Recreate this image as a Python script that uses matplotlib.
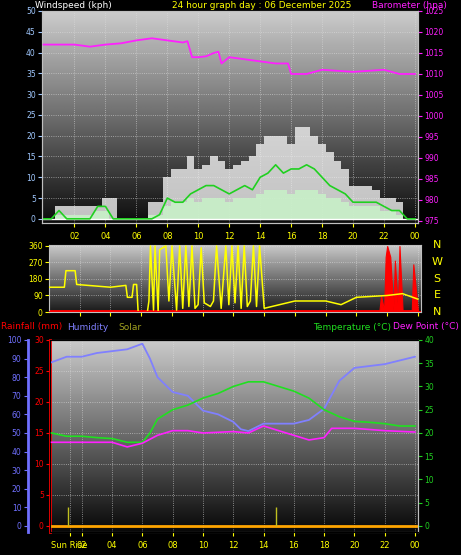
import numpy as np
import matplotlib
matplotlib.use("Agg")
import matplotlib.pyplot as plt

# ---------------- data ----------------
hours_h = [i * 0.5 for i in range(49)]
gust = [0, 0, 3, 3, 3, 3, 3, 3, 5, 5, 0, 0, 0, 0, 4, 4, 10, 12, 12, 15, 12, 13, 15, 14,
        12, 13, 14, 15, 18, 20, 20, 20, 18, 22, 22, 20, 18, 16, 14, 12, 8, 8, 8, 7, 5, 5, 4, 0, 0]
wind_avg = [0, 0, 2, 0, 0, 0, 0, 3, 3, 0, 0, 0, 0, 0, 0, 1, 5, 4, 4, 6, 7, 8, 8, 7,
            6, 7, 8, 7, 10, 11, 13, 11, 12, 12, 13, 12, 10, 8, 7, 6, 4, 4, 4, 4, 3, 2, 2, 0, 0]
wind_fill = [0, 0, 1, 1, 1, 1, 1, 2, 2, 0, 0, 0, 0, 0, 1, 1, 3, 4, 4, 5, 4, 5, 5, 5,
             4, 5, 5, 5, 6, 7, 7, 7, 6, 7, 7, 7, 6, 5, 5, 4, 3, 3, 3, 3, 2, 2, 1, 0, 0]

baro_h = [0, 1, 2, 3, 4, 5, 6, 7, 8, 9, 9.3, 9.6, 10, 10.5, 11, 11.3, 11.5, 12, 13, 14, 15, 15.8, 16, 17, 18, 20, 22, 23, 24]
baro = [1017, 1017, 1017, 1016.5, 1017, 1017.3, 1018, 1018.5, 1018, 1017.5, 1017.8, 1014, 1014, 1014.2, 1015, 1015.3, 1012.5,
        1014, 1013.5, 1013, 1012.5, 1012.5, 1010, 1010, 1011, 1010.5, 1011, 1010, 1010]

dir_h = [0, 1, 1.1, 1.7, 1.8, 4, 5, 5.1, 5.4, 5.5, 5.7, 5.8, 6.4, 6.5, 6.6, 6.8, 6.9, 7.1, 7.2, 7.6, 7.8, 8, 8.3, 8.5,
         8.7, 8.9, 9.1, 9.3, 9.5, 9.7, 9.9, 10.1, 10.5, 10.7, 10.9, 11.2, 11.5, 11.7, 11.9, 12.1, 12.3, 12.5,
         12.7, 12.9, 13.1, 13.3, 13.5, 13.7, 14, 16, 18, 19, 20, 22, 23, 24]
direction = [135, 135, 225, 225, 150, 135, 145, 80, 80, 150, 150, 0, 0, 60, 360, 10, 360, 0, 340, 360, 60, 360, 10, 360,
             20, 360, 30, 360, 20, 40, 350, 50, 30, 60, 360, 20, 360, 40, 360, 50, 360, 20,
             360, 30, 60, 360, 30, 360, 20, 60, 60, 40, 80, 90, 100, 70]
rain_dir_h = [0, 21.5, 21.6, 21.8, 21.9, 22.0, 22.2, 22.4, 22.5, 22.7, 22.8, 23.0, 23.6, 23.7, 24]
rain_dir = [10, 10, 90, 10, 300, 360, 300, 10, 280, 10, 360, 10, 10, 260, 10]

hum_h = [0, 1, 2, 3, 4, 5, 6, 6.5, 7, 8, 9, 10, 11, 12, 12.5, 13, 14, 15, 16, 17, 18, 19, 20, 21, 22, 23, 24]
humidity = [88, 91, 91, 93, 94, 95, 98, 90, 80, 72, 70, 62, 60, 56, 52, 51, 55, 55, 55, 57, 63, 78, 85, 86, 87, 89, 91]
temp_h = [0, 1, 2, 3, 4, 5, 6, 6.5, 7, 8, 9, 10, 11, 12, 13, 14, 15, 16, 17, 18, 19, 20, 21, 22, 23, 24]
temperature = [20, 19.3, 19.3, 19, 18.8, 18, 18, 20, 23, 25, 26, 27.5, 28.5, 30, 31, 31, 30, 29, 27.5, 25, 23.5, 22.5, 22.3, 22, 21.5, 21.5]
dew_h = [0, 2, 4, 5, 6, 7, 8, 9, 10, 12, 13, 14, 15, 16, 17, 18, 18.5, 20, 22, 24]
dewpoint = [18, 18, 18, 17, 17.8, 19.5, 20.5, 20.5, 20, 20.3, 20, 21.5, 20.5, 19.5, 18.5, 19, 21, 21, 20.5, 20.2]
solar_h = [1.1, 14.8]
solar = [3, 3]

xtick_pos = [2, 4, 6, 8, 10, 12, 14, 16, 18, 20, 22, 24]
xtick_lab = ["02", "04", "06", "08", "10", "12", "14", "16", "18", "20", "22", "00"]

# ---------------- figure ----------------
W, H = 461, 555
fig = plt.figure(figsize=(W / 100, H / 100), dpi=100, facecolor="black")
plt.rcParams["font.family"] = ["DejaVu Sans"]


def rect(l, r, t, b):
    return [l / W, 1 - b / H, (r - l) / W, (b - t) / H]


def bg(ax, top=0.8, bot=0.05):
    grad = np.linspace(top, bot, 200).reshape(-1, 1)
    ax.imshow(grad, cmap="gray", vmin=0, vmax=1, aspect="auto", extent=[0, 1, 0, 1],
              transform=ax.transAxes, zorder=0)
    ax.set_facecolor("black")
    for s in ax.spines.values():
        s.set_color("#c0c0c0")


def style_ticks(ax, col_left, col_x):
    ax.tick_params(axis="y", colors=col_left, labelsize=5.5, length=3, pad=1.5)
    ax.tick_params(axis="x", colors=col_x, labelsize=6, length=3)
    ax.grid(True, color="#e0e0e0", ls=":", lw=0.6, alpha=0.7)


# Panel 1
ax1 = fig.add_axes(rect(42, 418, 11, 223))
bg(ax1)
ax1.fill_between(hours_h, gust, step="mid", color="#f0f0f0", alpha=0.8, zorder=2, lw=0)
ax1.fill_between(hours_h, wind_fill, step="mid", color="#c8f0c8", alpha=0.9, zorder=3, lw=0)
ax1.plot(hours_h, wind_avg, color="#20d020", lw=1.2, zorder=4)
ax1.axhline(0, color="white", lw=1, zorder=3)
ax1.set_xlim(-0.1, 24.2)
ax1.set_ylim(-1, 50)
ax1.set_yticks(range(0, 51, 5))
ax1.set_xticks(xtick_pos)
ax1.set_xticklabels(xtick_lab)
style_ticks(ax1, "#a0c8ff", "yellow")
ax1b = ax1.twinx()
ax1b.plot(baro_h, baro, color="#ff20ff", lw=1.3, zorder=5)
ax1b.set_ylim(974.5, 1025)
ax1b.set_yticks(range(975, 1026, 5))
ax1b.tick_params(axis="y", colors="#ff20ff", labelsize=5.5, length=3, pad=1.5)
for s in ax1b.spines.values():
    s.set_color("#c0c0c0")

# Panel 2
ax2 = fig.add_axes(rect(49, 421, 245, 312))
bg(ax2, 0.8, 0.1)
ax2.fill_between(rain_dir_h, rain_dir, color="red", lw=0.8, zorder=2)
ax2.plot(dir_h, direction, color="yellow", lw=1.1, zorder=3)
ax2.axhline(2, color="red", lw=1.5, zorder=4)
ax2.set_xlim(0, 24.2)
ax2.set_ylim(0, 365)
ax2.set_yticks([0, 90, 180, 270, 360])
ax2.set_xticks(xtick_pos)
ax2.set_xticklabels([])
style_ticks(ax2, "yellow", "yellow")
for lab, yy in zip(["N", "W", "S", "E", "N"], [245, 262, 279, 295, 312]):
    fig.text(437 / W, 1 - yy / H, lab, color="yellow", fontsize=8, ha="center", va="center")

# Panel 3
ax3 = fig.add_axes(rect(50, 418, 340, 532))
bg(ax3, 0.8, 0.03)
ax3.set_xlim(-0.1, 24.2)
ax3.set_ylim(-1, 30)
ax3.set_yticks(range(0, 31, 5))
ax3.set_xticks([1.2, 2] + xtick_pos[1:])
ax3.set_xticklabels(["Sun Rise", "02"] + xtick_lab[1:])
style_ticks(ax3, "red", "yellow")
ax3.spines["left"].set_color("red")
ax3.spines["left"].set_linewidth(2)
ax3.axhline(0, color="orange", lw=2, zorder=3)
ax3.vlines(solar_h, 0, solar, color="#c0c020", lw=1, zorder=4)

ax3h = ax3.twinx()
ax3h.spines["left"].set_visible(True)
ax3h.spines["left"].set_position(("outward", 16))
ax3h.spines["left"].set_color("#7070ff")
ax3h.spines["left"].set_linewidth(2)
ax3h.spines["right"].set_visible(False)
ax3h.yaxis.set_ticks_position("left")
ax3h.yaxis.set_label_position("left")
ax3h.set_ylim(-3.3, 100)
ax3h.set_yticks(range(0, 101, 10))
ax3h.tick_params(axis="y", colors="#7070ff", labelsize=5.5, length=3, pad=1.5)
ax3h.plot(hum_h, humidity, color="#8080ff", lw=1.3, zorder=5)

ax3t = ax3.twinx()
ax3t.set_ylim(-1.3, 40)
ax3t.set_yticks(range(0, 41, 5))
ax3t.tick_params(axis="y", colors="#20d020", labelsize=5.5, length=3, pad=1.5)
ax3t.spines["right"].set_color("#c0c0c0")
ax3t.plot(temp_h, temperature, color="#20e020", lw=1.2, zorder=5)
ax3t.plot(dew_h, dewpoint, color="#ff20ff", lw=1.2, zorder=5)

# Titles
fs = 6.5
fig.text(35 / W, 1 - 6 / H, "Windspeed (kph)", color="white", fontsize=fs, va="center")
fig.text(172 / W, 1 - 6 / H, "24 hour graph day : 06 December 2025", color="yellow", fontsize=fs, va="center")
fig.text(372 / W, 1 - 6 / H, "Barometer (hpa)", color="#ff20ff", fontsize=fs, va="center")
fig.text(1 / W, 1 - 327 / H, "Rainfall (mm)", color="red", fontsize=fs, va="center")
fig.text(67 / W, 1 - 327 / H, "Humidity", color="#8080ff", fontsize=fs, va="center")
fig.text(118 / W, 1 - 327 / H, "Solar", color="#a0a020", fontsize=fs, va="center")
fig.text(313 / W, 1 - 327 / H, "Temperature (°C)", color="#20e020", fontsize=fs, va="center")
fig.text(393 / W, 1 - 327 / H, "Dew Point (°C)", color="#ff20ff", fontsize=fs, va="center")

fig.savefig("out.png", dpi=100, facecolor="black")
